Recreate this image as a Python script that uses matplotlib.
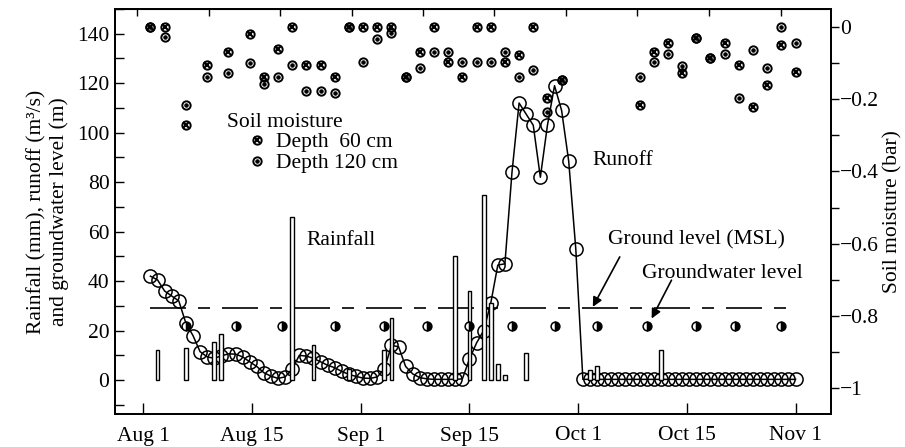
"""Rainfall, runoff, groundwater level and soil moisture, Aug 1 - Nov 1."""
import matplotlib
matplotlib.use('Agg')
import matplotlib.pyplot as plt
import numpy as np
from matplotlib.legend_handler import HandlerTuple
from matplotlib.ticker import FuncFormatter, MultipleLocator

plt.rcParams['font.family'] = ['Liberation Serif', 'DejaVu Serif']
plt.rcParams['font.size'] = 15.5
plt.rcParams['axes.unicode_minus'] = True

# x axis: days since Aug 1 (92 days to Nov 1)
DATE_LABELS = ['Aug 1', 'Aug 15', 'Sep 1', 'Sep 15', 'Oct 1', 'Oct 15', 'Nov 1']

# daily runoff (m3/s), days 1..92
runoff_day = list(range(1, 93))
runoff = [42, 40.5, 36, 34, 32, 23, 18, 11.5, 9.4, 8.8,
          9.8, 10.6, 10.5, 9.4, 7.4, 5.5, 3, 1.6, 0.7, 1.3,
          4.5, 10, 9.7, 8.8, 7.4, 6, 5, 3.5, 2.3, 1.5,
          0.8, 0.7, 1.3, 4.5, 14, 13.5, 5.5, 2.5, 1, 0.5,
          0.3, 0.3, 0.3, 0.3, 0.5, 8.5, 15, 20, 31, 46.5,
          47, 84, 112, 107.5, 103, 82, 103, 119, 109, 88.5,
          53, 0.3, 0.3, 0.3, 0.3, 0.3, 0.3, 0.3, 0.3, 0.3,
          0.3, 0.3, 0.3, 0.3, 0.3, 0.3, 0.3, 0.3, 0.3, 0.3,
          0.3, 0.3, 0.3, 0.3, 0.3, 0.3, 0.3, 0.3, 0.3, 0.3,
          0.3, 0.3]

# rainfall (mm)
rain_day = [2, 6, 10, 11, 21, 24, 29, 34, 35, 44, 46, 48, 49, 50, 51, 54, 63, 64, 73]
rain = [12, 13, 15.5, 18.5, 66, 14, 4.5, 12, 25, 50, 36, 75, 31, 6.5, 2, 11, 4, 5.5, 12]

# groundwater level (m) and ground level (MSL)
gw_day = [6, 13, 19.5, 27, 34, 40, 46, 52, 58, 64, 71, 78, 83.5, 90]
gw_level = [22, 22, 22, 22, 22, 22, 22, 22, 22, 22, 22, 22, 22, 22]
ground_day = [1, 92]
ground_level = [29, 29]

# soil moisture (bar)
sm_day = [1, 3, 6, 9, 12, 15, 17, 19, 21, 23, 25, 27, 29, 31, 33, 35, 37, 39, 41, 43,
          45, 47, 49, 51, 53, 55, 57, 59, 70, 72, 74, 76, 78, 80, 82, 84, 86, 88, 90, 92]
sm_60 = [0, 0, -0.271, -0.105, -0.068, -0.020, -0.138, -0.061, 0, -0.105,
         -0.105, -0.138, 0, 0, 0, 0, -0.138, -0.069, 0, -0.097,
         -0.138, 0, 0, -0.097, -0.078, 0, -0.197, -0.147, -0.216, -0.069,
         -0.044, -0.127, -0.030, -0.086, -0.044, -0.105, -0.222, -0.161, -0.05, -0.125]
sm_120 = [0, -0.027, -0.216, -0.138, -0.128, -0.099, -0.158, -0.138, -0.105, -0.177,
          -0.177, -0.184, 0, -0.096, -0.033, -0.017, -0.138, -0.113, -0.069, -0.069,
          -0.097, -0.097, -0.097, -0.069, -0.138, -0.119, -0.235, -0.147, -0.138, -0.097,
          -0.075, -0.108, -0.030, -0.086, -0.075, -0.197, -0.064, -0.114, 0, -0.044]

fig = plt.figure(figsize=(9.05, 4.47), dpi=100)
ax = fig.add_axes([115 / 905, 1 - 414 / 447, 716 / 905, 405 / 447])
ax2 = ax.twinx()

# rainfall bars, runoff, groundwater
ax.plot(runoff_day, runoff, color='black', lw=1.1, marker='o', ms=9.5,
        mfc='none', mec='black', mew=1.1, zorder=2)
ax.bar(rain_day, rain, width=0.55, facecolor='white', edgecolor='black',
       lw=1.0, zorder=3)
ax.plot(ground_day, ground_level, color='black', lw=1.2,
        dashes=(21.6, 7.2, 7.2, 7.2), zorder=1)
ax.plot(gw_day, gw_level, ls='none', marker='o', ms=6.3, fillstyle='right',
        mfc='black', mfcalt='white', mec='black', mew=1.1, zorder=4)

# soil moisture
o60, = ax2.plot(sm_day, sm_60, ls='none', marker='o', ms=6, mfc='none',
                mec='black', mew=1.4)
x60, = ax2.plot(sm_day, sm_60, ls='none', marker='x', ms=4.4, mec='black', mew=1.5)
o120, = ax2.plot(sm_day, sm_120, ls='none', marker='o', ms=6, mfc='none',
                 mec='black', mew=1.4)
i120, = ax2.plot(sm_day, sm_120, ls='none', marker='o', ms=2.4, mfc='black',
                 mec='black', mew=0.8)

ax.set_xlim(-4, 97)
ax.set_ylim(-13.7, 150)
ax2.set_ylim(-1.072, 0.05)

ax.set_xticks(np.linspace(0, 92, 7))
ax.set_xticklabels(DATE_LABELS)
ax.tick_params(axis='x', direction='in', length=8, width=1.0, pad=9)
top = ax.secondary_xaxis('top')
top.set_xticks([-0.9, 9.2, 19.3, 29.4, 39.4, 49.5, 59.6, 69.7, 79.8, 89.9])
top.tick_params(direction='in', length=5, width=1.0, labeltop=False)

ax.yaxis.set_major_locator(MultipleLocator(20))
ax.yaxis.set_minor_locator(MultipleLocator(10))
ax.tick_params(axis='y', which='both', direction='in', length=6.5, width=1.0, pad=4)

ax2.yaxis.set_major_locator(MultipleLocator(0.2))
ax2.yaxis.set_minor_locator(MultipleLocator(0.1))
ax2.yaxis.set_major_formatter(FuncFormatter(
    lambda v, _: '0' if abs(v) < 1e-9 else f'{v:g}'.replace('-', '\u2212')))
ax2.tick_params(axis='y', which='both', direction='out', length=5.5, width=1.0, pad=1)

for a in (ax, ax2):
    for sp in a.spines.values():
        sp.set_linewidth(1.3)

ax.set_ylabel('Rainfall (mm), runoff (m\u00b3/s)\nand groundwater level (m)',
              labelpad=6, linespacing=1.2)
ax2.set_ylabel('Soil moisture (bar)', labelpad=3)

# annotations
ax.text(11.8, 104, 'Soil moisture', va='center', ha='left')
ax2.legend([(o60, x60), (o120, i120)], ['Depth  60 cm', 'Depth 120 cm'],
           handler_map={tuple: HandlerTuple(ndivide=1)},
           loc='upper left', bbox_to_anchor=((246 - 115) / 716, (414 - 132) / 405),
           frameon=False, handlelength=1.0, handletextpad=0.4, borderpad=0,
           borderaxespad=0, labelspacing=0.05)
ax.text(23.0, 56.5, 'Rainfall', va='center', ha='left')
ax.text(63.4, 88.9, 'Runoff', va='center', ha='left')
ax.text(65.5, 56.5, 'Ground level (MSL)', va='center', ha='left')
ax.text(70.3, 43.1, 'Groundwater level', va='center', ha='left')
arrow = dict(arrowstyle='-|>', color='black', lw=1.2, mutation_scale=14,
             shrinkA=0, shrinkB=0)
ax.annotate('', xy=(63.4, 29.6), xytext=(67.2, 49.8), arrowprops=arrow)
ax.annotate('', xy=(71.7, 24.9), xytext=(74.5, 40.4), arrowprops=arrow)

fig.savefig('out.png', dpi=100)
